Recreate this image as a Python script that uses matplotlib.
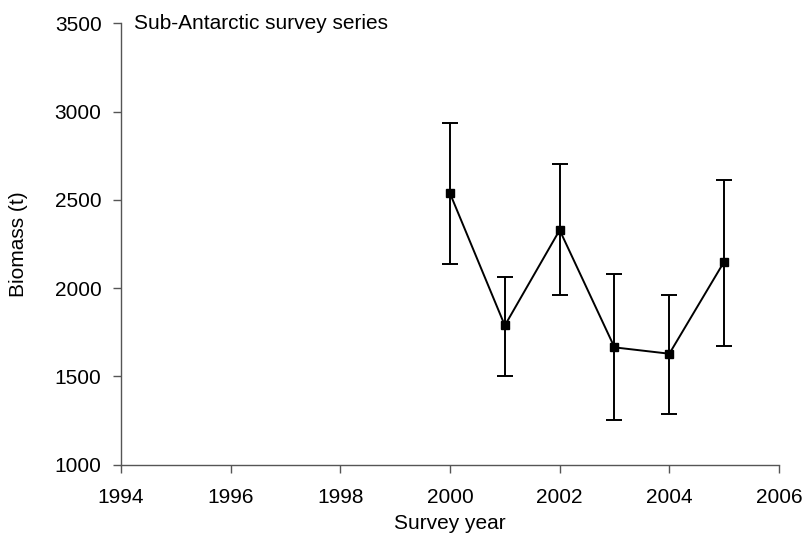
import numpy as np
import matplotlib.pyplot as plt

plt.rcParams['font.family'] = ['Liberation Sans', 'DejaVu Sans']

# Survey data
years = [2000, 2001, 2002, 2003, 2004, 2005]
biomass = [2537, 1788, 2329, 1664, 1628, 2150]
upper = [2936, 2065, 2701, 2078, 1963, 2610]
lower = [2135, 1500, 1963, 1251, 1285, 1669]

biomass = np.array(biomass)
yerr = [biomass - np.array(lower), np.array(upper) - biomass]

fig = plt.figure(figsize=(8.05, 5.4), dpi=100)
ax = fig.add_axes([0.1503, 0.1398, 0.8174, 0.8167])

ax.errorbar(years, biomass, yerr=yerr, color='black', lw=1.4, marker='s',
            markersize=6, capsize=6, capthick=1.4, elinewidth=1.4)

ax.set_xlim(1994, 2006)
ax.set_ylim(1000, 3500)
ax.set_xticks(range(1994, 2007, 2))
ax.set_yticks(range(1000, 3501, 500))

for side in ['top', 'right']:
    ax.spines[side].set_visible(False)
for side in ['left', 'bottom']:
    ax.spines[side].set_color('#555555')
    ax.spines[side].set_linewidth(1.0)

ax.tick_params(direction='out', length=6, width=1.0, color='#555555',
               labelsize=15)
ax.tick_params(axis='y', pad=8)
ax.tick_params(axis='x', pad=11)

ax.set_xlabel('Survey year', fontsize=15, labelpad=5)
ax.set_ylabel('Biomass (t)', fontsize=15, labelpad=19)

ax.text(0.02, 1.0, 'Sub-Antarctic survey series', transform=ax.transAxes,
        fontsize=15, ha='left', va='center')

fig.savefig('out.png', dpi=100)
